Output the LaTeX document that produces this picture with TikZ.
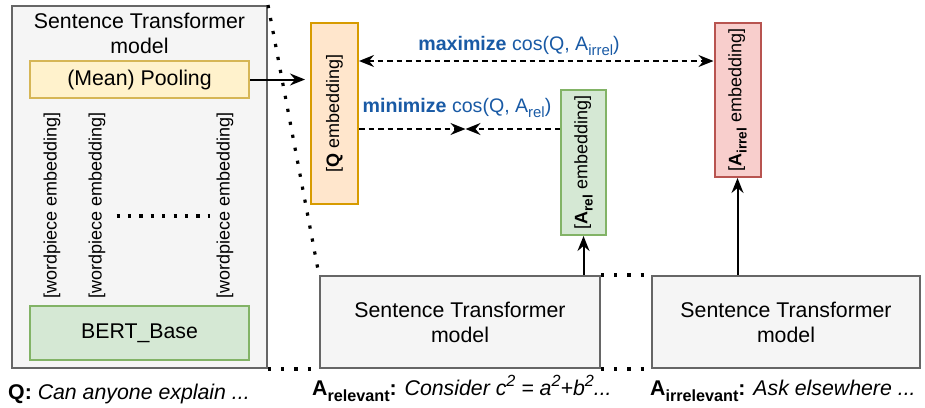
\documentclass[tikz,border=0pt]{standalone}
\usepackage{fontspec}
\usepackage{graphicx}
\setmainfont{Liberation Sans}
\usetikzlibrary{arrows.meta}
\definecolor{stfill}{HTML}{F5F5F5}
\definecolor{stline}{HTML}{666666}
\definecolor{yfill}{HTML}{FFF2CC}
\definecolor{yline}{HTML}{D6B656}
\definecolor{gfill}{HTML}{D5E8D4}
\definecolor{gline}{HTML}{82B366}
\definecolor{ofill}{HTML}{FFE6CC}
\definecolor{oline}{HTML}{D79B00}
\definecolor{rfill}{HTML}{F8CECC}
\definecolor{rline}{HTML}{B85450}
\definecolor{lblue}{RGB}{25,90,165}
\newcommand\mysb[1]{\raisebox{-0.3em}{\scalebox{0.76}{#1}}}
\newcommand\mysp[1]{\raisebox{0.42em}{\scalebox{0.76}{#1}}}
\tikzset{
  box/.style={draw, line width=2pt, inner sep=0pt, minimum width=#1},
  stbox/.style={box=#1, fill=stfill, draw=stline},
  bigfont/.style={font=\fontsize{21.3}{25}\selectfont},
  smallfont/.style={font=\fontsize{18}{21}\selectfont},
  rotlabel/.style={smallfont, rotate=90, inner sep=0pt},
  dotline/.style={line width=3.2pt, dash pattern=on 3.2pt off 10pt},
  dashline/.style={line width=2pt, dash pattern=on 5.5pt off 4pt},
  tip/.style={-{Stealth[length=15pt,width=12pt,inset=5pt]}},
  bitip/.style={{Stealth[length=15pt,width=12pt,inset=5pt]}-{Stealth[length=15pt,width=12pt,inset=5pt]}},
  solidarrow/.style={line width=2pt, tip},
}
\begin{document}
\begin{tikzpicture}[x=1pt,y=-1pt]
\useasboundingbox (0,0) rectangle (925,407);

% left big Sentence Transformer box
\node[stbox=255pt, minimum height=362pt] (L) at (139.5,187) {};
\node[bigfont, align=center, inner sep=0pt] (Ltitle) at (139.5,33) {Sentence Transformer\\model};
\node[box=219pt, minimum height=37pt, fill=yfill, draw=yline, bigfont] (pool) at (139.5,79.5) {(Mean) Pooling};
\node[box=219pt, minimum height=54pt, fill=gfill, draw=gline, bigfont] (bert) at (139.5,333) {BERT\_Base};
\node[rotlabel] (wp1) at (52,205) {[wordpiece embedding]};
\node[rotlabel] (wp2) at (97,205) {[wordpiece embedding]};
\node[rotlabel] (wp3) at (225,205) {[wordpiece embedding]};
\coordinate (d1) at (116.5,216);
\coordinate (d2) at (210,216);
\draw[line width=3.2pt, dash pattern=on 3.2pt off 8.2pt] (d1) -- (d2);

% embeddings
\node[box=47pt, minimum height=181pt, fill=ofill, draw=oline] (Q) at (334.5,113.5) {};
\node[rotlabel] at (Q.center) {[\textbf{Q} embedding]};
\node[box=45pt, minimum height=145pt, fill=gfill, draw=gline] (Arel) at (583.5,162.5) {};
\node[rotlabel] at (Arel.center) {[\textbf{A\mysb{rel}} embedding]};
\node[box=46pt, minimum height=154pt, fill=rfill, draw=rline] (Airr) at (737.5,100) {};
\node[rotlabel] at (Airr.center) {[\textbf{A\mysb{irrel}} embedding]};

% lower Sentence Transformer boxes
\node[stbox=280pt, minimum height=92pt, bigfont, align=center] (ST1) at (460,322) {Sentence Transformer\\model};
\node[stbox=268pt, minimum height=92pt, bigfont, align=center] (ST2) at (786,322) {Sentence Transformer\\model};

% dotted connectors
\draw[dotline] (L.north east) -- (ST1.north west);
\draw[dotline] (L.south east) -- (ST1.south west);
\draw[dotline] (ST1.north east) -- (ST2.north west);
\draw[dotline] (ST1.south east) -- (ST2.south west);

% solid arrows
\draw[solidarrow, shorten >=5pt] (pool.east) -- (Q.west |- pool.east);
\draw[solidarrow] (Arel.south |- ST1.north) -- (Arel.south);
\draw[solidarrow] (Airr.south |- ST2.north) -- (Airr.south);

% dashed similarity arrows
\coordinate (maxy) at (0,61);
\coordinate (miny) at (0,129);
\coordinate (mid) at (465.5,129);
\draw[dashline, bitip] (Q.east |- maxy) -- (Airr.west |- maxy);
\draw[dashline, tip] (Q.east |- miny) -- (mid);
\draw[dashline, tip] (Arel.west |- miny) -- (mid);
\node[font=\fontsize{19.6}{22}\selectfont, text=lblue, inner sep=0pt, anchor=base] (maxlbl) at (519,50) {\textbf{maximize} cos(Q, A\mysb{irrel})};
\node[font=\fontsize{19.6}{22}\selectfont, text=lblue, inner sep=0pt, anchor=base] (minlbl) at (457,112) {\textbf{minimize} cos(Q, A\mysb{rel})};

% bottom labels
\node[bigfont, inner sep=0pt, anchor=base west] (qtext) at (8,399) {\textbf{Q:} \textit{Can anyone explain ...}};
\node[bigfont, inner sep=0pt, anchor=base west] (reltext) at (312,395) {\textbf{A\mysb{relevant}:} \textit{Consider c\mysp{2} = a\mysp{2}+b\mysp{2}...}};
\node[bigfont, inner sep=0pt, anchor=base west] (irrtext) at (650,395) {\textbf{A\mysb{irrelevant}:} \textit{Ask elsewhere ...}};
\end{tikzpicture}
\end{document}
